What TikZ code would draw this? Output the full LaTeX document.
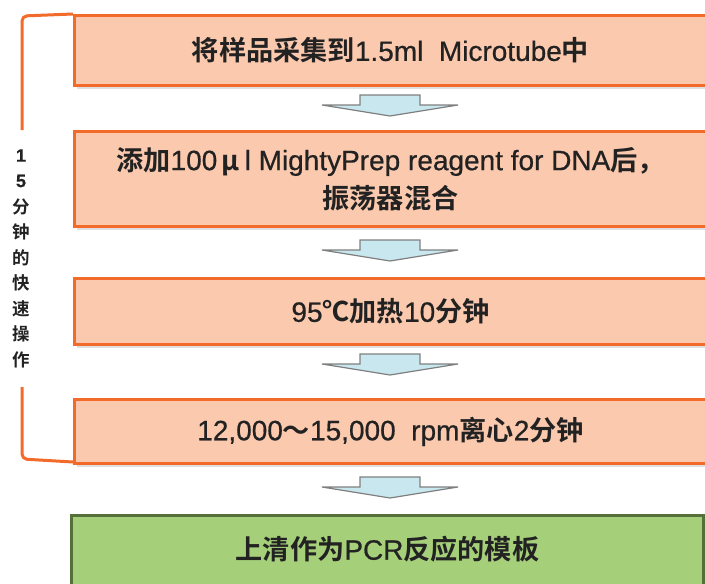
\documentclass[tikz,border=0pt]{standalone}
\usepackage{fontspec}
\setmainfont{Liberation Sans}[FakeBold=0.6]
\newfontfamily\cjkfont{Noto Sans CJK SC Bold}[Scale=0.97]
\newcommand{\cn}[1]{{\cjkfont #1}}
\usetikzlibrary{shadows}
\definecolor{peach}{HTML}{FBC9AE}
\definecolor{orng}{HTML}{F26B2A}
\definecolor{arrfill}{HTML}{C9E7EE}
\definecolor{arrline}{HTML}{7F7F7F}
\definecolor{grn}{HTML}{A6CF7A}
\definecolor{dgrn}{HTML}{56703A}
\definecolor{txt}{HTML}{222222}
\tikzset{
  stepbox/.style={draw=orng, line width=3pt, fill=peach, minimum width=632pt,
    anchor=north west, inner sep=0pt, text=txt, font=\fontsize{28}{38}\selectfont,
    align=center, drop shadow={shadow xshift=2pt, shadow yshift=-3pt, opacity=0.25}},
  endbox/.style={stepbox, draw=dgrn, fill=grn},
  flowarr/.style={draw=arrline, fill=arrfill, line width=1.2pt},
  vtext/.style={font=\fontsize{18}{20}\selectfont, text=txt, inner sep=0pt},
  brace/.style={draw=orng, line width=3pt, rounded corners=5pt, line join=round, line cap=butt}
}
\begin{document}
\begin{tikzpicture}[x=1pt,y=-1pt]
\useasboundingbox (0,0) rectangle (705,584);
\node[stepbox, minimum height=70pt] (b1) at (73,14) {\cn{将样品采集到}1.5ml\ \ Microtube\cn{中}};
\node[stepbox, minimum height=95pt] (b2) at (73,130) {\cn{添加}100\,\cn{μ}\,l MightyPrep\ reagent\ for\ DNA\cn{后，}\\\cn{振荡器混合}};
\node[stepbox, minimum height=66pt] (b3) at (73,277) {95\cn{℃加热}10\cn{分钟}};
\node[stepbox, minimum height=64pt] (b4) at (73,398) {12,000\cn{～}15,000\ \ rpm\cn{离心}2\cn{分钟}};
\node[endbox, minimum height=80pt] (b5) at (70,514) {\raisebox{15pt}{\cn{上清作为}PCR\cn{反应的模板}}};
% arrows
\foreach \a/\t in {1/95,2/240,3/354,4/477}{
  \draw[flowarr] (360,\t) -- (420,\t) -- (420,\t+10) -- (458,\t+10) -- (390,\t+21) -- (322,\t+10) -- (360,\t+10) -- cycle;
}
% bracket
\coordinate (bt) at (73,14);
\coordinate (bb) at (73,462);
\draw[brace] (bt) -- (22,16) -- (22,130);
\draw[brace] (22,387) -- (22,459) -- (bb);
% vertical text
\foreach \c [count=\i] in {\textbf{1},\textbf{5},\cn{分},\cn{钟},\cn{的},\cn{快},\cn{速},\cn{操},\cn{作}}{
  \node[vtext] (v\i) at (21,{130+\i*25.5}) {\c};
}
\end{tikzpicture}
\end{document}
